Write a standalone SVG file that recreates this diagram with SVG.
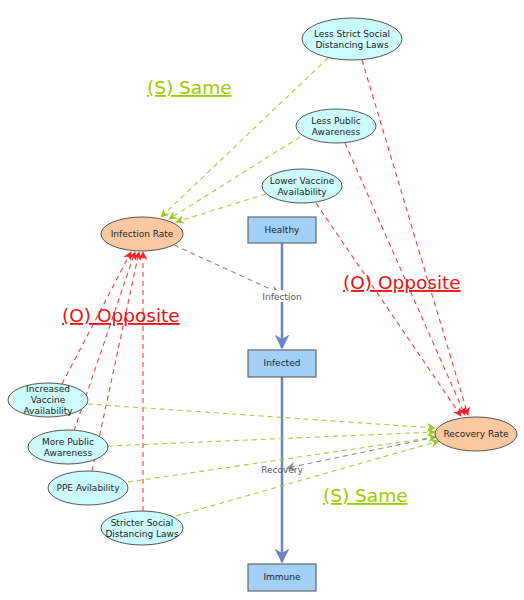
<svg xmlns="http://www.w3.org/2000/svg" width="524" height="600" viewBox="0 0 524 600">
<defs>
<style>
.t{font-family:"DejaVu Sans","Liberation Sans",sans-serif;font-size:9px;fill:#222;text-anchor:middle}
.n{fill:#ccfbff;stroke:#555;stroke-width:1}
.o{fill:#fcc8a0;stroke:#555;stroke-width:1}
.r{fill:#a3d0f8;stroke:#666;stroke-width:1.2}
.g{stroke:#a8cc3c;stroke-width:1.1;stroke-dasharray:5 4;fill:none}
.rd{stroke:#ff3b3b;stroke-width:1.1;stroke-dasharray:5 4;fill:none}
.gy{stroke:#8a8aa0;stroke-width:1.1;stroke-dasharray:5 4;fill:none}
.f{stroke:#6a86bf;stroke-width:2.5;fill:none}
.big{font-family:"DejaVu Sans","Liberation Sans",sans-serif;font-size:18.5px;text-decoration:underline}
.fl{font-family:"DejaVu Sans","Liberation Sans",sans-serif;font-size:9px;fill:#556;text-anchor:middle}
</style>
<marker id="ag" viewBox="0 0 10 10" refX="9" refY="5" markerWidth="8" markerHeight="8" orient="auto"><path d="M0,0L10,5L0,10L3,5z" fill="#99cc22"/></marker>
<marker id="ar" viewBox="0 0 10 10" refX="9" refY="5" markerWidth="8" markerHeight="8" orient="auto"><path d="M0,0L10,5L0,10L3,5z" fill="#ff2020"/></marker>
<marker id="ay" viewBox="0 0 10 10" refX="9" refY="5" markerWidth="8" markerHeight="8" orient="auto"><path d="M0,0L10,5L0,10L3,5z" fill="#8a8aa0"/></marker>
<marker id="af" viewBox="0 0 10 10" refX="9" refY="5" markerWidth="6" markerHeight="6" orient="auto"><path d="M0,0L10,5L0,10L3,5z" fill="#6a86bf"/></marker>
</defs>
<rect width="524" height="600" fill="#fff"/>
<g id="connectors">
<line class="f" x1="282" y1="243" x2="282" y2="348" marker-end="url(#af)"/>
<line class="f" x1="282" y1="377" x2="282" y2="562" marker-end="url(#af)"/>
<line class="g" x1="328" y1="58" x2="161" y2="217" marker-end="url(#ag)"/>
<line class="g" x1="300" y1="137" x2="169" y2="219" marker-end="url(#ag)"/>
<line class="g" x1="266" y1="194" x2="176" y2="222" marker-end="url(#ag)"/>
<line class="rd" x1="362" y1="60" x2="468" y2="415" marker-end="url(#ar)"/>
<line class="rd" x1="345" y1="143" x2="465" y2="415" marker-end="url(#ar)"/>
<line class="rd" x1="316" y1="203" x2="461" y2="416" marker-end="url(#ar)"/>
<line class="rd" x1="62" y1="384" x2="131" y2="252" marker-end="url(#ar)"/>
<line class="rd" x1="74" y1="431" x2="135" y2="252" marker-end="url(#ar)"/>
<line class="rd" x1="92" y1="471" x2="139" y2="252" marker-end="url(#ar)"/>
<line class="rd" x1="143" y1="511" x2="143" y2="252" marker-end="url(#ar)"/>
<line class="g" x1="88" y1="404" x2="435" y2="428" marker-end="url(#ag)"/>
<line class="g" x1="108" y1="446" x2="435" y2="432" marker-end="url(#ag)"/>
<line class="g" x1="128" y1="482" x2="436" y2="437" marker-end="url(#ag)"/>
<line class="g" x1="176" y1="516" x2="439" y2="441" marker-end="url(#ag)"/>
<line class="gy" x1="174" y1="245" x2="279" y2="293" marker-end="url(#ay)"/>
<line class="gy" x1="436" y1="437" x2="287" y2="468" marker-end="url(#ay)"/>
<rect x="258" y="290" width="48" height="12" fill="#fff"/>
<text class="fl" x="282" y="300">Infection</text>
<text class="fl" x="282" y="473">Recovery</text>
</g>
<g id="lessStrict"><ellipse class="n" cx="352" cy="39" rx="50" ry="21"/><text class="t" x="352" y="37">Less Strict Social</text><text class="t" x="352" y="48">Distancing Laws</text></g>
<g id="lessPublic"><ellipse class="n" cx="336" cy="126" rx="40" ry="17"/><text class="t" x="336" y="124">Less Public</text><text class="t" x="336" y="135">Awareness</text></g>
<g id="lowerVaccine"><ellipse class="n" cx="302" cy="186" rx="40" ry="17"/><text class="t" x="302" y="184">Lower Vaccine</text><text class="t" x="302" y="195">Availability</text></g>
<g id="infectionRate"><ellipse class="o" cx="142" cy="234" rx="41" ry="17"/><text class="t" x="142" y="237">Infection Rate</text></g>
<g id="healthy"><rect class="r" x="248" y="217" width="68" height="26"/><text class="t" x="282" y="233">Healthy</text></g>
<g id="infected"><rect class="r" x="248" y="350" width="68" height="27"/><text class="t" x="282" y="366">Infected</text></g>
<g id="immune"><rect class="r" x="248" y="564" width="68" height="27"/><text class="t" x="282" y="580">Immune</text></g>
<g id="recoveryRate"><ellipse class="o" cx="476" cy="434" rx="41" ry="17"/><text class="t" x="476" y="437">Recovery Rate</text></g>
<g id="increasedVaccine"><ellipse class="n" cx="48" cy="400" rx="40" ry="17"/><text class="t" x="48" y="392">Increased</text><text class="t" x="48" y="403">Vaccine</text><text class="t" x="48" y="414">Availability</text></g>
<g id="morePublic"><ellipse class="n" cx="68" cy="447" rx="40" ry="17"/><text class="t" x="68" y="445">More Public</text><text class="t" x="68" y="456">Awareness</text></g>
<g id="ppe"><ellipse class="n" cx="88" cy="488" rx="40" ry="17"/><text class="t" x="88" y="491">PPE Avilability</text></g>
<g id="stricter"><ellipse class="n" cx="142" cy="528" rx="41" ry="17"/><text class="t" x="142" y="526">Stricter Social</text><text class="t" x="142" y="537">Distancing Laws</text></g>
<g id="labels">
<text class="big" x="147" y="94" fill="#99cc00">(S) Same</text>
<text class="big" x="62" y="322" fill="#ee1111">(O) Opposite</text>
<text class="big" x="343" y="289" fill="#ee1111">(O) Opposite</text>
<text class="big" x="323" y="502" fill="#99cc00">(S) Same</text>
</g>
</svg>
